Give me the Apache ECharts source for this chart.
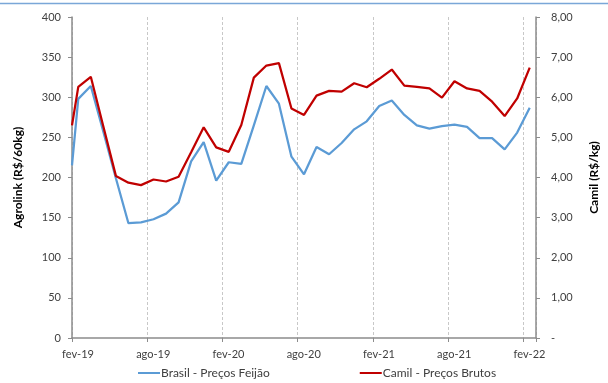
<!DOCTYPE html>
<html>
<head>
<meta charset="utf-8">
<script src="https://cdn.jsdelivr.net/npm/echarts@6/dist/echarts.min.js"></script>
<style>
  html, body { margin: 0; padding: 0; background: #fff; }
  #chart { width: 608px; height: 383px; }
</style>
</head>
<body>
<div id="chart"></div>
<script>
// Observation dates (mostly mid-month readings)
var dates = [
  '2019-02-01', '2019-02-16', '2019-03-16', '2019-04-16', '2019-05-16', '2019-06-16',
  '2019-07-16', '2019-08-16', '2019-09-16', '2019-10-16', '2019-11-16', '2019-12-16',
  '2020-01-16', '2020-02-16', '2020-03-16', '2020-04-16', '2020-05-16', '2020-06-16',
  '2020-07-16', '2020-08-16', '2020-09-16', '2020-10-16', '2020-11-16', '2020-12-16',
  '2021-01-16', '2021-02-16', '2021-03-16', '2021-04-16', '2021-05-16', '2021-06-16',
  '2021-07-16', '2021-08-16', '2021-09-16', '2021-10-16', '2021-11-16', '2021-12-16',
  '2022-01-16', '2022-02-16'
];

// Brasil - Preços Feijão, R$/60kg (left axis)
var brasilFeijao = [
  215, 298, 314, 257, 199, 143,
  144, 148, 155, 169, 220, 244,
  196, 219, 217, 265, 314, 292,
  226, 204, 238, 229, 243, 260,
  270, 289, 296, 278, 265, 261,
  264, 266, 263, 249, 249, 235,
  256, 287
];

// Camil - Preços Brutos, R$/kg (right axis)
var camilBrutos = [
  5.30, 6.26, 6.51, 5.27, 4.04, 3.87,
  3.81, 3.95, 3.90, 4.02, 4.63, 5.25,
  4.75, 4.64, 5.31, 6.49, 6.79, 6.85,
  5.72, 5.56, 6.04, 6.16, 6.14, 6.35,
  6.25, 6.46, 6.69, 6.29, 6.26, 6.22,
  5.99, 6.40, 6.22, 6.16, 5.89, 5.53,
  5.97, 6.74
];

var xTickLabels = ['fev-19', 'ago-19', 'fev-20', 'ago-20', 'fev-21', 'ago-21', 'fev-22'];
var leftTicks = [0, 50, 100, 150, 200, 250, 300, 350, 400];
var rightTicks = ['-', '1,00', '2,00', '3,00', '4,00', '5,00', '6,00', '7,00', '8,00'];

// Months elapsed since Feb 2019 (fractional, day-of-month based)
function monthOffset(s) {
  var p = s.split('-');
  var y = +p[0], m = +p[1], d = +p[2];
  return (y - 2019) * 12 + (m - 2) + (d - 1) / 30;
}

var xs = dates.map(monthOffset);
var brasilData = brasilFeijao.map(function (v, i) { return [xs[i], v]; });
var camilData = camilBrutos.map(function (v, i) { return [xs[i], v]; });

var FONT = 'Lato, "Open Sans", sans-serif';
var axisGray = '#8c8c8c';

var chart = echarts.init(document.getElementById('chart'), null, { renderer: 'canvas' });
chart.setOption({
  animation: false,
  textStyle: { fontFamily: FONT },
  graphic: [{
    type: 'line',
    shape: { x1: 0, y1: 3.5, x2: 608, y2: 3.5 },
    style: { stroke: '#7aa7d8', lineWidth: 1.5 }
  }],
  grid: { left: 72, right: 63, top: 17, bottom: 45 },
  legend: {
    bottom: -1,
    left: 133,
    itemGap: 90,
    itemWidth: 22,
    itemHeight: 2,
    icon: 'rect',
    textStyle: { fontFamily: FONT, fontSize: 12, color: '#404040', padding: [0, 0, 0, -4] },
    data: ['Brasil - Preços Feijão', 'Camil - Preços Brutos']
  },
  xAxis: {
    type: 'value',
    min: 0,
    max: 37,
    interval: 6,
    axisLine: { lineStyle: { color: axisGray, width: 1.5 } },
    axisTick: { show: true, length: 4, lineStyle: { color: axisGray } },
    axisLabel: {
      color: '#404040', fontSize: 11, fontFamily: FONT, margin: 11,
      // month labels sit centred on their month, half a step right of the tick
      padding: [0, 0, 0, 12],
      formatter: function (v) {
        var i = Math.round(v / 6);
        return (v % 6 === 0 && xTickLabels[i]) ? xTickLabels[i] : '';
      }
    },
    splitLine: { show: true, lineStyle: { color: '#c8c8c8', type: [3, 2], width: 1 } }
  },
  yAxis: [{
    type: 'value',
    min: 0, max: 400, interval: 50,
    position: 'left',
    name: 'Agrolink (R$/60kg)',
    nameLocation: 'middle',
    nameRotate: 90,
    nameGap: 48,
    nameTextStyle: { fontFamily: FONT, fontWeight: 'bold', fontSize: 12, color: '#000' },
    axisLine: { show: true, lineStyle: { color: axisGray, width: 1.5 } },
    axisTick: { show: true, length: 4, lineStyle: { color: axisGray } },
    axisLabel: {
      color: '#404040', fontSize: 11, fontFamily: FONT, margin: 11,
      formatter: function (v) { return leftTicks.indexOf(v) >= 0 ? String(v) : ''; }
    },
    splitLine: { show: false }
  }, {
    type: 'value',
    min: 0, max: 8, interval: 1,
    position: 'right',
    name: 'Camil (R$/kg)',
    nameLocation: 'middle',
    nameRotate: 90,
    nameGap: 52,
    nameTextStyle: { fontFamily: FONT, fontWeight: 'bold', fontSize: 12, color: '#000' },
    axisLine: { show: true, lineStyle: { color: axisGray, width: 1.5 } },
    axisTick: { show: true, length: 4, lineStyle: { color: axisGray } },
    axisLabel: {
      color: '#404040', fontSize: 11, fontFamily: FONT, margin: 15,
      formatter: function (v) { return rightTicks[Math.round(v)] || ''; }
    },
    splitLine: { show: false }
  }],
  series: [{
    name: 'Brasil - Preços Feijão',
    type: 'line',
    yAxisIndex: 0,
    data: brasilData,
    showSymbol: false,
    symbol: 'none',
    lineStyle: { color: '#5b9bd5', width: 2.25 },
    itemStyle: { color: '#5b9bd5' }
  }, {
    name: 'Camil - Preços Brutos',
    type: 'line',
    yAxisIndex: 1,
    data: camilData,
    showSymbol: false,
    symbol: 'none',
    lineStyle: { color: '#c00000', width: 2.25 },
    itemStyle: { color: '#c00000' }
  }]
});
</script>
</body>
</html>
